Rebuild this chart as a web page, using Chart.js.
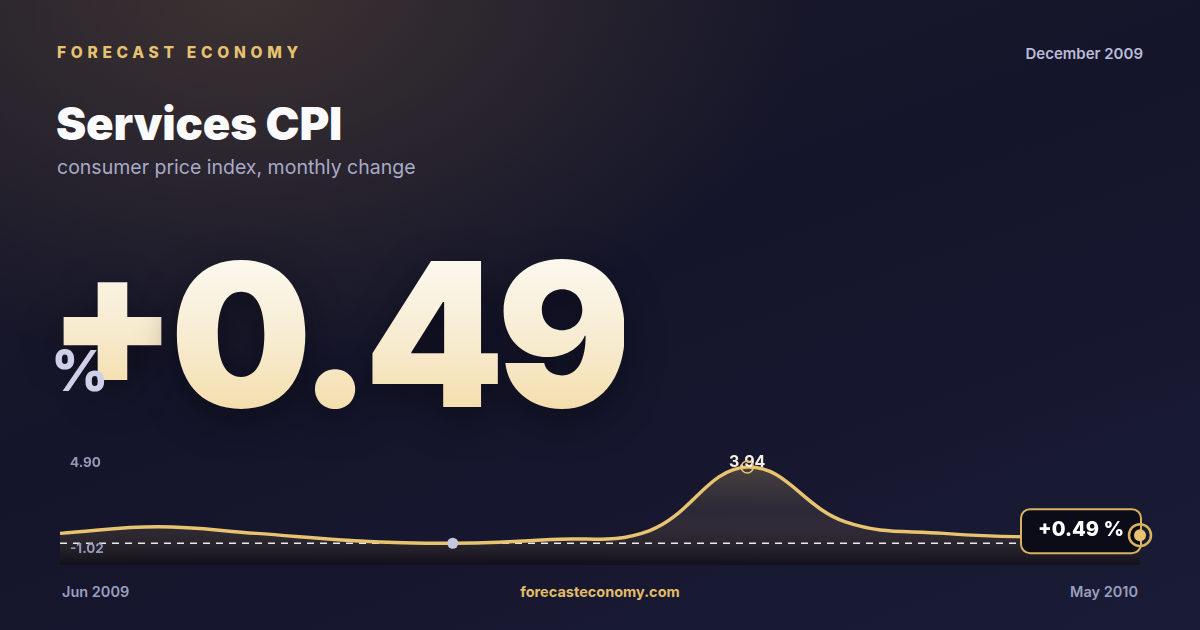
<!DOCTYPE html>
<html>
<head>
<meta charset="utf-8">
<script src="https://cdn.jsdelivr.net/npm/chart.js@4"></script>
<style>
  html, body { margin: 0; padding: 0; }
  body {
    width: 1200px; height: 630px; overflow: hidden; position: relative;
    font-family: Inter, "Noto Sans", sans-serif;
    background:
      radial-gradient(ellipse 560px 380px at 250px -10px, rgba(88, 70, 56, 0.55), rgba(88, 70, 56, 0) 100%),
      linear-gradient(160deg, #1b1a2a 0%, #14152a 45%, #1a1b36 100%);
  }
  .abs { position: absolute; white-space: nowrap; }
  #brand { left: 57px; top: 43px; font-size: 15.5px; font-weight: 800; letter-spacing: 4.7px; color: #e6c271; }
  #date { right: 57px; top: 44px; font-size: 15px; font-weight: 600; color: #b9bcd8; }
  #title { left: 56px; top: 96px; font-size: 45.5px; font-weight: 900; color: #fbfbfd; letter-spacing: -0.2px; }
  #subtitle { left: 57px; top: 155px; font-size: 19.5px; font-weight: 400; color: #a8aac8; }
  .big {
    line-height: 1; font-weight: 900;
    background: linear-gradient(180deg, #fdfcf8 0%, #f7ebcf 55%, #f3d9a0 100%);
    -webkit-background-clip: text; background-clip: text; color: transparent;
    filter: drop-shadow(0 12px 18px rgba(5, 5, 15, 0.55));
  }
  #big-sign { left: 48px; top: 226px; font-size: 186px; }
  #big-num { left: 170px; top: 234px; font-size: 200px; letter-spacing: -8px; }
  #pct { left: 51px; top: 343px; font-size: 56px; line-height: 1; font-weight: 800; color: #cdd0e8; }
  #chart-wrap { position: absolute; left: 0; top: 430px; width: 1200px; height: 150px; }
  .foot { top: 583px; font-size: 14.5px; font-weight: 600; color: #9c9fbe; }
  #foot-left { left: 62px; }
  #foot-mid { left: 0; width: 1200px; text-align: center; color: #e3bc68; font-weight: 700; }
  #foot-right { right: 62px; }
</style>
</head>
<body>
<div id="brand" class="abs">FORECAST ECONOMY</div>
<div id="date" class="abs">December 2009</div>
<div id="title" class="abs">Services CPI</div>
<div id="subtitle" class="abs">consumer price index, monthly change</div>
<div id="big-sign" class="abs big"></div>
<div id="big-num" class="abs big"></div>
<div id="pct" class="abs">%</div>
<div id="chart-wrap"><canvas id="cpi-chart" width="1200" height="150"></canvas></div>
<div id="foot-left" class="abs foot"></div>
<div id="foot-mid" class="abs foot">forecasteconomy.com</div>
<div id="foot-right" class="abs foot"></div>

<script>
// Services CPI, monthly change (%), Jun 2009 - May 2010
const months = ['Jun 2009', 'Jul 2009', 'Aug 2009', 'Sep 2009', 'Oct 2009', 'Nov 2009',
                'Dec 2009', 'Jan 2010', 'Feb 2010', 'Mar 2010', 'Apr 2010', 'May 2010'];
const cpiChange = [0.58, 0.91, 0.58, 0.21, 0.08, 0.27, 0.71, 3.94, 1.16, 0.58, 0.39, 0.49];
const yRange = [-1.02, 4.90];

const GOLD = '#e8c470';

const last = cpiChange[cpiChange.length - 1];
const fmtSigned = v => (v >= 0 ? '+' : '') + v.toFixed(2);

document.getElementById('big-sign').textContent = last >= 0 ? '+' : '-';
document.getElementById('big-num').textContent = Math.abs(last).toFixed(2);
document.getElementById('foot-left').textContent = months[0];
document.getElementById('foot-right').textContent = months[months.length - 1];

const peakIdx = cpiChange.indexOf(Math.max(...cpiChange));
const minIdx = cpiChange.indexOf(Math.min(...cpiChange));

// dashed reference line, range labels, peak/min/last markers
const overlay = {
  id: 'overlay',
  beforeDatasetDraw(chart) {
    // runs after the filler, before the line itself
    const { ctx, chartArea, scales } = chart;
    const y = scales.y.getPixelForValue(cpiChange[minIdx]);
    ctx.save();
    ctx.strokeStyle = 'rgba(255, 255, 255, 0.9)';
    ctx.lineWidth = 1.5;
    ctx.setLineDash([7, 6]);
    ctx.beginPath();
    ctx.moveTo(chartArea.left, y);
    ctx.lineTo(chartArea.right, y);
    ctx.stroke();
    ctx.restore();
  },
  afterDatasetsDraw(chart) {
    const { ctx, chartArea, scales } = chart;
    const pts = chart.getDatasetMeta(0).data;
    ctx.save();

    // axis range labels
    ctx.font = '700 13.5px Inter, sans-serif';
    ctx.fillStyle = 'rgba(160, 163, 198, 0.92)';
    ctx.textAlign = 'left';
    ctx.textBaseline = 'alphabetic';
    ctx.fillText(yRange[1].toFixed(2), chartArea.left + 10, chartArea.top + 19);
    ctx.fillText(yRange[0].toFixed(2), chartArea.left + 10, scales.y.getPixelForValue(cpiChange[minIdx]) + 10);

    // peak label + hollow ring
    const pk = pts[peakIdx];
    ctx.font = '700 16px Inter, sans-serif';
    ctx.fillStyle = '#f3efe4';
    ctx.textAlign = 'center';
    ctx.fillText(cpiChange[peakIdx].toFixed(2), pk.x, pk.y + 0.5);
    ctx.strokeStyle = GOLD;
    ctx.lineWidth = 1.5;
    ctx.beginPath();
    ctx.arc(pk.x, pk.y, 6, 0, Math.PI * 2);
    ctx.stroke();

    // minimum dot
    const mn = pts[minIdx];
    ctx.fillStyle = '#c4c7de';
    ctx.beginPath();
    ctx.arc(mn.x, mn.y, 5.5, 0, Math.PI * 2);
    ctx.fill();

    // last value tag
    const lp = pts[pts.length - 1];
    const bx = lp.x - 119, by = lp.y - 26, bw = 120, bh = 44;
    ctx.fillStyle = '#0b0c18';
    ctx.strokeStyle = '#d9b25e';
    ctx.lineWidth = 2;
    ctx.beginPath();
    ctx.roundRect(bx, by, bw, bh, 9);
    ctx.fill();
    ctx.stroke();
    ctx.font = '800 20px Inter, sans-serif';
    ctx.fillStyle = '#ffffff';
    ctx.textAlign = 'center';
    ctx.fillText(fmtSigned(last) + ' %', bx + 60, lp.y + 1);

    // last point dot + ring
    ctx.fillStyle = GOLD;
    ctx.beginPath();
    ctx.arc(lp.x, lp.y, 6, 0, Math.PI * 2);
    ctx.fill();
    ctx.strokeStyle = '#d9b25e';
    ctx.lineWidth = 2.5;
    ctx.beginPath();
    ctx.arc(lp.x, lp.y, 11, 0, Math.PI * 2);
    ctx.stroke();
    ctx.restore();
  }
};

const canvas = document.getElementById('cpi-chart');
new Chart(canvas, {
  type: 'line',
  data: {
    labels: months,
    datasets: [{
      data: cpiChange,
      borderColor: GOLD,
      borderWidth: 3.5,
      pointRadius: 0,
      tension: 0.4,
      fill: 'start',
      backgroundColor: (c) => {
        const area = c.chart.chartArea;
        if (!area) return 'rgba(0,0,0,0)';
        const g = c.chart.ctx.createLinearGradient(0, area.top, 0, area.bottom);
        g.addColorStop(0, 'rgba(232, 196, 112, 0.32)');
        g.addColorStop(0.55, 'rgba(120, 100, 80, 0.22)');
        g.addColorStop(1, 'rgba(14, 13, 20, 0.75)');
        return g;
      },
      clip: false
    }]
  },
  plugins: [overlay],
  options: {
    responsive: false,
    animation: false,
    events: [],
    layout: { padding: { left: 60, right: 60, top: 18, bottom: 15 } },
    plugins: { legend: { display: false }, tooltip: { enabled: false } },
    scales: {
      x: { display: false },
      y: { display: false, min: yRange[0], max: yRange[1] }
    }
  }
});
</script>
</body>
</html>
